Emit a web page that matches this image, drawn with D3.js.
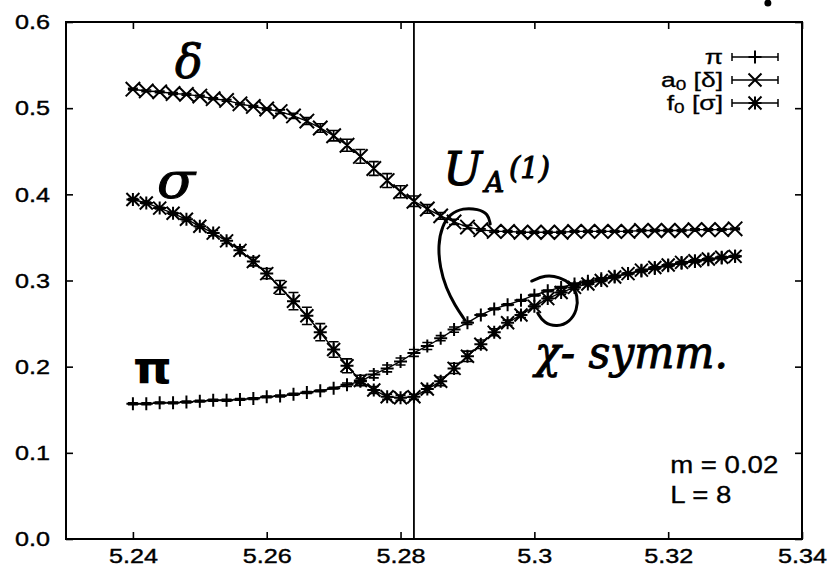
<!DOCTYPE html>
<html>
<head>
<meta charset="utf-8">
<script src="https://cdn.jsdelivr.net/npm/d3@7"></script>
<style>
body { margin: 0; background: #fff; }
</style>
</head>
<body>
<div id="chart"></div>
<script>
//--------------------------- Data

var beta = [5.240, 5.242, 5.244, 5.246, 5.248, 5.250, 5.252, 5.254, 5.256, 5.258,
            5.260, 5.262, 5.264, 5.266, 5.268, 5.270, 5.272, 5.274, 5.276, 5.278,
            5.280, 5.282, 5.284, 5.286, 5.288, 5.290, 5.292, 5.294, 5.296, 5.298,
            5.300, 5.302, 5.304, 5.306, 5.308, 5.310, 5.312, 5.314, 5.316, 5.318,
            5.320, 5.322, 5.324, 5.326, 5.328, 5.330];

var piVal = [0.157, 0.157, 0.158, 0.158, 0.159, 0.160, 0.161, 0.161, 0.162, 0.163,
             0.165, 0.166, 0.168, 0.170, 0.172, 0.175, 0.179, 0.183, 0.191, 0.198,
             0.206, 0.216, 0.224, 0.233, 0.243, 0.251, 0.260, 0.267, 0.272, 0.277,
             0.283, 0.288, 0.292, 0.296, 0.299, 0.302, 0.305, 0.308, 0.311, 0.314,
             0.317, 0.320, 0.322, 0.324, 0.326, 0.328];
var piErr = [0.001, 0.001, 0.001, 0.001, 0.001, 0.001, 0.001, 0.001, 0.001, 0.001,
             0.001, 0.001, 0.001, 0.001, 0.001, 0.001, 0.002, 0.003, 0.004, 0.004,
             0.004, 0.004, 0.004, 0.003, 0.003, 0.002, 0.001, 0.001, 0.001, 0.001,
             0.001, 0.001, 0.001, 0.001, 0.001, 0.001, 0.001, 0.001, 0.001, 0.001,
             0.001, 0.001, 0.001, 0.001, 0.001, 0.001];

var deltaVal = [0.522, 0.520, 0.519, 0.517, 0.516, 0.514, 0.511, 0.509, 0.505, 0.502,
                0.499, 0.496, 0.491, 0.485, 0.477, 0.468, 0.457, 0.444, 0.430, 0.416,
                0.403, 0.392, 0.383, 0.375, 0.368, 0.362, 0.359, 0.357, 0.357, 0.356,
                0.356, 0.356, 0.356, 0.357, 0.357, 0.357, 0.357, 0.357, 0.358, 0.358,
                0.358, 0.358, 0.359, 0.359, 0.359, 0.360];
var deltaErr = [0.001, 0.001, 0.001, 0.001, 0.001, 0.001, 0.001, 0.001, 0.001, 0.001,
                0.001, 0.002, 0.003, 0.004, 0.005, 0.006, 0.007, 0.008, 0.008, 0.008,
                0.007, 0.006, 0.005, 0.004, 0.003, 0.002, 0.001, 0.001, 0.001, 0.001,
                0.001, 0.001, 0.001, 0.001, 0.001, 0.001, 0.001, 0.001, 0.001, 0.001,
                0.001, 0.001, 0.001, 0.001, 0.001, 0.001];

var sigmaVal = [0.394, 0.390, 0.384, 0.378, 0.371, 0.363, 0.355, 0.346, 0.335, 0.322,
                0.308, 0.292, 0.276, 0.259, 0.240, 0.220, 0.201, 0.184, 0.173, 0.165,
                0.164, 0.165, 0.174, 0.183, 0.198, 0.212, 0.226, 0.240, 0.251, 0.260,
                0.270, 0.279, 0.286, 0.292, 0.296, 0.300, 0.304, 0.308, 0.312, 0.315,
                0.318, 0.321, 0.323, 0.325, 0.327, 0.328];
var sigmaErr = [0.001, 0.001, 0.001, 0.001, 0.002, 0.002, 0.003, 0.003, 0.004, 0.005,
                0.006, 0.008, 0.010, 0.010, 0.010, 0.009, 0.008, 0.006, 0.004, 0.003,
                0.003, 0.003, 0.004, 0.005, 0.006, 0.006, 0.005, 0.004, 0.003, 0.003,
                0.002, 0.002, 0.002, 0.002, 0.001, 0.001, 0.001, 0.001, 0.001, 0.001,
                0.001, 0.001, 0.001, 0.001, 0.001, 0.001];

var xTicks = [5.24, 5.26, 5.28, 5.3, 5.32, 5.34];
var yTicks = [0.0, 0.1, 0.2, 0.3, 0.4, 0.5, 0.6];
var betaCrit = 5.282;

// hand-written notes on the print, in data units
var hookA = [[5.2934, 0.3656], [5.2931, 0.3772], [5.2916, 0.3830], [5.2893, 0.3842],
             [5.2874, 0.3772], [5.2862, 0.3632], [5.2856, 0.3412], [5.2859, 0.3145],
             [5.2868, 0.2913], [5.2881, 0.2716], [5.2896, 0.2542]];
var loopB = [[5.2996, 0.2994], [5.3016, 0.3064], [5.3038, 0.3041], [5.3056, 0.2959],
             [5.3065, 0.2820], [5.3064, 0.2658], [5.3053, 0.2518], [5.3034, 0.2460],
             [5.3014, 0.2507], [5.3005, 0.2623]];

//--------------------------- SVG definition

var width = 831;
var height = 568;
var mLeft = 66, mRight = 802, mTop = 22, mBottom = 539;

var svg = d3.select("#chart")
    .append("svg")
    .attr("width", width)
    .attr("height", height)
    .style("font-family", "'Liberation Sans', Arial, sans-serif");

var x = d3.scaleLinear().domain([5.23, 5.34]).range([mLeft, mRight]);
var y = d3.scaleLinear().domain([0, 0.6]).range([mBottom, mTop]);

var sx = 1.2; // the scanned lettering is stretched sideways

//--------------------------- Axes

var gx = svg.append("g")
    .attr("transform", "translate(0," + mBottom + ")")
    .call(d3.axisBottom(x).tickValues(xTicks).tickSize(-7).tickPadding(9)
        .tickFormat(function (d) { return String(d); }));

var gy = svg.append("g")
    .attr("transform", "translate(" + mLeft + ",0)")
    .call(d3.axisLeft(y).tickValues(yTicks).tickSize(-7).tickPadding(16 / sx)
        .tickFormat(d3.format(".1f")));

var gt = svg.append("g")
    .attr("transform", "translate(0," + mTop + ")")
    .call(d3.axisTop(x).tickValues(xTicks).tickSize(-7).tickFormat(""));

var gr = svg.append("g")
    .attr("transform", "translate(" + mRight + ",0)")
    .call(d3.axisRight(y).tickValues(yTicks).tickSize(-7).tickFormat(""));

[gx, gy, gt, gr].forEach(function (g) {
    g.select(".domain").remove();
    g.selectAll("line").attr("stroke", "#000").attr("stroke-width", 1.6);
    g.selectAll("text")
        .attr("font-family", "'Liberation Sans', Arial, sans-serif")
        .attr("font-size", 21)
        .attr("fill", "#000")
        .attr("stroke", "#000").attr("stroke-width", 0.4)
        .attr("transform", "scale(" + sx + ",1)");
});

svg.append("rect")
    .attr("x", mLeft).attr("y", mTop)
    .attr("width", mRight - mLeft).attr("height", mBottom - mTop)
    .attr("fill", "none").attr("stroke", "#000").attr("stroke-width", 2);

svg.append("line")
    .attr("x1", x(betaCrit)).attr("x2", x(betaCrit))
    .attr("y1", mTop).attr("y2", mBottom)
    .attr("stroke", "#000").attr("stroke-width", 1.8);

//--------------------------- Point symbols

function symbolPath(type, cx, cy, s) {
    var p = "";
    if (type == "plus" || type == "star")
        p += "M" + (cx - s) + "," + cy + "H" + (cx + s) + "M" + cx + "," + (cy - s) + "V" + (cy + s);
    if (type == "cross" || type == "star")
        p += "M" + (cx - s) + "," + (cy - s) + "L" + (cx + s) + "," + (cy + s) +
             "M" + (cx - s) + "," + (cy + s) + "L" + (cx + s) + "," + (cy - s);
    return p;
}

var series = [
    { vals: piVal, errs: piErr, sym: "plus", size: 6.5 },
    { vals: deltaVal, errs: deltaErr, sym: "cross", size: 7.2 },
    { vals: sigmaVal, errs: sigmaErr, sym: "star", size: 6.5 }
];

var plot = svg.append("g");
var line = d3.line().x(function (d) { return x(d[0]); }).y(function (d) { return y(d[1]); });

series.forEach(function (s) {
    var pts = beta.map(function (b, i) { return [b, s.vals[i], s.errs[i]]; });

    plot.append("path")
        .attr("d", line(pts))
        .attr("fill", "none").attr("stroke", "#000").attr("stroke-width", 1.4);

    // error bars with caps
    plot.append("path")
        .attr("d", pts.map(function (d) {
            var cx = x(d[0]), y0 = y(d[1] - d[2]), y1 = y(d[1] + d[2]);
            return "M" + cx + "," + y0 + "V" + y1 +
                   "M" + (cx - 5) + "," + y0 + "H" + (cx + 5) +
                   "M" + (cx - 5) + "," + y1 + "H" + (cx + 5);
        }).join(""))
        .attr("fill", "none").attr("stroke", "#000").attr("stroke-width", 1.6);

    plot.append("path")
        .attr("d", pts.map(function (d) { return symbolPath(s.sym, x(d[0]), y(d[1]), s.size); }).join(""))
        .attr("fill", "none").attr("stroke", "#000").attr("stroke-width", 2);
});

//--------------------------- Legend

var legendRows = [
    { main: "\u03c0", sub: "", rest: "", sym: "plus" },
    { main: "a", sub: "0", rest: " [\u03b4]", sym: "cross" },
    { main: "f", sub: "0", rest: " [\u03c3]", sym: "star" }
];

legendRows.forEach(function (r, k) {
    var cy = 57 + k * 23;
    var g = svg.append("g").attr("transform", "translate(723," + cy + ")");
    var t = g.append("text")
        .attr("y", 7)
        .attr("text-anchor", "end")
        .attr("font-size", 21)
        .attr("stroke", "#000").attr("stroke-width", 0.3)
        .attr("transform", "scale(" + (sx * 1.05) + ",1)")
        .text(r.main);
    if (r.sub) {
        t.append("tspan").attr("font-size", 15).attr("dy", 3).text(r.sub);
        t.append("tspan").attr("dy", -3).text(r.rest);
    }
    svg.append("path")
        .attr("d", "M732," + cy + "H778M732," + (cy - 4) + "V" + (cy + 4) + "M778," + (cy - 4) + "V" + (cy + 4))
        .attr("stroke", "#000").attr("stroke-width", 1.5).attr("fill", "none");
    svg.append("path")
        .attr("d", symbolPath(r.sym, 755, cy, 6.5))
        .attr("stroke", "#000").attr("stroke-width", 2).attr("fill", "none");
});

//--------------------------- Run parameters

svg.append("text")
    .attr("transform", "translate(" + x(5.3203) + "," + y(0.0766) + ") scale(" + sx + ",1)")
    .attr("font-size", 23)
    .attr("stroke", "#000").attr("stroke-width", 0.3)
    .text("m = 0.02");
svg.append("text")
    .attr("transform", "translate(" + x(5.3203) + "," + y(0.0418) + ") scale(" + sx + ",1)")
    .attr("font-size", 23)
    .attr("stroke", "#000").attr("stroke-width", 0.3)
    .text("L = 8");

//--------------------------- Hand-written notes

var hand = "'DejaVu Serif', serif";

function note(b, v, txt, size) {
    return svg.append("text")
        .attr("x", x(b)).attr("y", y(v))
        .attr("font-family", hand).attr("font-style", "italic").attr("font-size", size)
        .attr("stroke", "#000").attr("stroke-width", 1)
        .text(txt);
}

note(5.2463, 0.535, "\u03b4", 46);
note(5.2436, 0.396, "\u03c3", 50)
    .attr("textLength", 38).attr("lengthAdjust", "spacingAndGlyphs");
svg.append("text")
    .attr("x", x(5.2400)).attr("y", y(0.181))
    .attr("font-family", "'DejaVu Sans', sans-serif").attr("font-weight", "bold").attr("font-size", 44)
    .attr("textLength", 39).attr("lengthAdjust", "spacingAndGlyphs")
    .text("\u03c0");

note(5.2864, 0.411, "U", 46);
note(5.2926, 0.4027, "A", 27);
note(5.2962, 0.419, "(1)", 29);

note(5.3001, 0.199, "\u03c7- symm.", 44)
    .attr("textLength", 193).attr("lengthAdjust", "spacingAndGlyphs");

var curve = d3.line().curve(d3.curveBasis)
    .x(function (d) { return x(d[0]); }).y(function (d) { return y(d[1]); });

[hookA, loopB].forEach(function (c) {
    svg.append("path")
        .attr("d", curve(c))
        .attr("fill", "none").attr("stroke", "#000").attr("stroke-width", 3)
        .attr("stroke-linecap", "round");
});

// ink spot at the top edge of the scan
svg.append("circle")
    .attr("cx", x(5.3349)).attr("cy", y(0.622)).attr("r", 3.5)
    .attr("fill", "#000");
</script>
</body>
</html>
